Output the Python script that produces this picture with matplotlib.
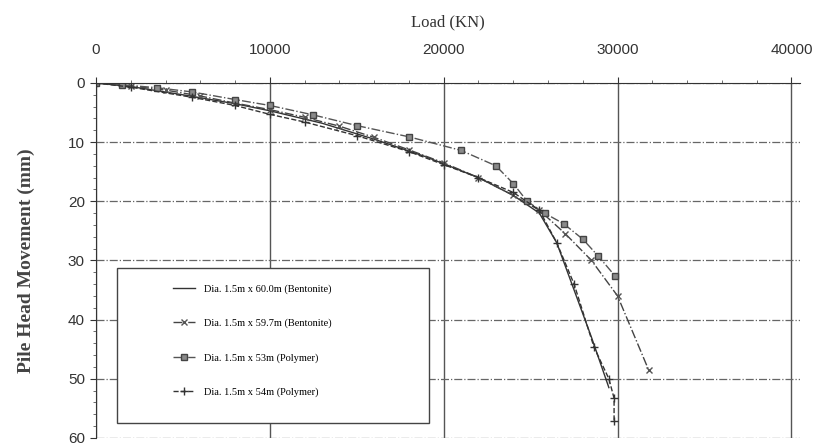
import matplotlib.pyplot as plt
from matplotlib.patches import Rectangle
from matplotlib.ticker import MultipleLocator

plt.rcParams['font.family'] = ['Liberation Serif', 'DejaVu Serif']

# load (kN) vs pile head movement (mm)
load_a = [0, 2000, 5000, 8000, 10000, 13000, 16000, 19000, 22000, 24000, 25500, 26500, 27500, 28500, 29500]
move_a = [0, 0.6, 2.0, 3.5, 4.7, 6.8, 9.5, 12.5, 16.0, 19.0, 22.0, 27.0, 35.0, 43.0, 51.5]

load_b = [0, 2000, 4000, 6000, 8000, 10000, 12000, 14000, 16000, 18000, 20000, 22000, 24000, 25500, 27000, 28500, 30000, 31800]
move_b = [0, 0.5, 1.2, 2.2, 3.4, 4.5, 5.8, 7.3, 9.2, 11.3, 13.5, 16.0, 19.0, 21.5, 25.5, 30.0, 36.0, 48.6]

load_c = [0, 1500, 3500, 5500, 8000, 10000, 12500, 15000, 18000, 21000, 23000, 24000, 24800, 25800, 26900, 28000, 28900, 29850]
move_c = [0, 0.3, 0.8, 1.5, 2.8, 3.8, 5.4, 7.2, 9.1, 11.4, 14.0, 17.0, 20.0, 22.0, 23.8, 26.4, 29.3, 32.6]

load_d = [0, 2000, 5500, 8000, 10000, 12000, 15000, 18000, 20000, 22000, 24000, 25500, 26500, 27500, 28650, 29500, 29800, 29800]
move_d = [0, 0.7, 2.4, 3.8, 5.3, 6.6, 8.9, 11.6, 13.8, 16.0, 18.5, 21.5, 27.0, 34.0, 44.7, 50.0, 53.3, 57.2]

labels = ['Dia. 1.5m x 60.0m (Bentonite)',
          'Dia. 1.5m x 59.7m (Bentonite)',
          'Dia. 1.5m x 53m (Polymer)',
          'Dia. 1.5m x 54m (Polymer)']

fig = plt.figure(figsize=(8.24, 4.45), dpi=100)
ax = fig.add_axes([0.1165, 0.016, 0.8545, 0.7975])

ax.plot(load_a, move_a, '-', color='#333333', lw=1.0, label=labels[0])
ax.plot(load_b, move_b, '-.', color='#444444', lw=1.0, marker='x', ms=4,
        mec='#555555', label=labels[1])
ax.plot(load_c, move_c, '-.', color='#555555', lw=1.0, marker='s', ms=5,
        mfc='#8a8a8a', mec='#444444', label=labels[2])
ax.plot(load_d, move_d, '--', color='#333333', lw=1.0, marker='+', ms=6,
        mec='#333333', label=labels[3])

ax.set_xlim(0, 40500)
ax.set_ylim(60, 0)
ax.xaxis.tick_top()
ax.xaxis.set_label_position('top')
ax.xaxis.set_major_locator(MultipleLocator(10000))
ax.xaxis.set_minor_locator(MultipleLocator(2000))
ax.yaxis.set_major_locator(MultipleLocator(10))
ax.yaxis.set_minor_locator(MultipleLocator(2))
ax.tick_params(axis='both', which='major', labelsize=11, length=4, colors='#333333')
ax.tick_params(axis='both', which='minor', length=2, colors='#555555')
ax.tick_params(axis='x', pad=15)
ax.tick_params(axis='y', pad=4)
for t in ax.get_xticklabels() + ax.get_yticklabels():
    t.set_family(['Liberation Sans', 'DejaVu Sans'])

ax.set_xlabel('Load (KN)', fontsize=12, labelpad=12, color='#333333')
ax.set_ylabel('Pile Head Movement (mm)', fontsize=14, fontweight='bold',
              labelpad=24, color='#444444')

ax.grid(axis='x', which='major', color='#555555', lw=1.0, ls='-')
ax.grid(axis='y', which='major', color='#666666', lw=0.9, ls='-.')
for side in ['right', 'bottom']:
    ax.spines[side].set_visible(False)
ax.spines['left'].set_color('#333333')
ax.spines['top'].set_color('#333333')

# legend frame drawn separately so the entries can sit well inside it
ax.add_patch(Rectangle((0.03, 0.042), 0.443, 0.437, transform=ax.transAxes,
                       facecolor='white', edgecolor='#444444', lw=1.0, zorder=4))
ax.legend(loc='upper left', bbox_to_anchor=(0.085, 0.479), fontsize=7.5,
          labelspacing=2.36, handlelength=2.2, borderpad=1.6, frameon=False,
          borderaxespad=0)

fig.savefig('out.png', dpi=100)
